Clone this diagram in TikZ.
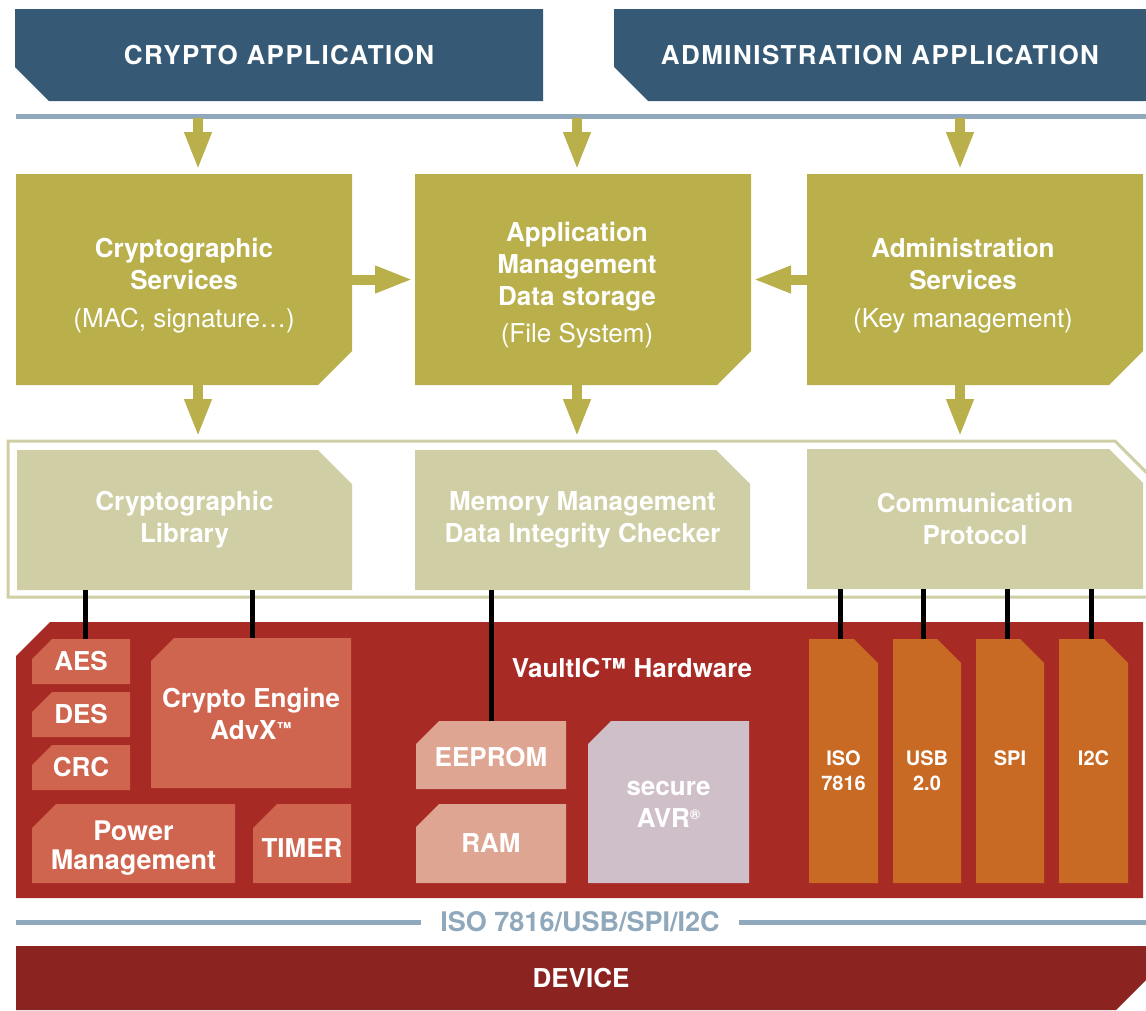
\documentclass[tikz,border=0pt]{standalone}
\usepackage{fontspec}
\setmainfont{TeX Gyre Heros}
\newfontfamily\bannerfont[LetterSpace=5.5]{TeX Gyre Heros}
\usetikzlibrary{arrows.meta}
\definecolor{bannerblue}{RGB}{54,90,117}
\definecolor{lineblue}{RGB}{143,168,187}
\definecolor{olivebox}{RGB}{185,176,76}
\definecolor{lightolive}{RGB}{207,206,164}
\definecolor{hwred}{RGB}{168,42,37}
\definecolor{salmonbox}{RGB}{208,101,79}
\definecolor{lightsalmon}{RGB}{222,165,146}
\definecolor{lilacbox}{RGB}{207,191,201}
\definecolor{ifaceorange}{RGB}{201,106,36}
\definecolor{devicered}{RGB}{139,35,32}
\newcommand\topgap[1]{\rule{0pt}{#1}}
\tikzset{
  cutNW/.style 2 args={path picture={\fill[#1]
    ([yshift=-#2]path picture bounding box.north west) -- ([xshift=#2]path picture bounding box.north west)
    -- (path picture bounding box.north east) -- (path picture bounding box.south east)
    -- (path picture bounding box.south west) -- cycle;}},
  cutNE/.style 2 args={path picture={\fill[#1]
    (path picture bounding box.north west) -- ([xshift=-#2]path picture bounding box.north east)
    -- ([yshift=-#2]path picture bounding box.north east) -- (path picture bounding box.south east)
    -- (path picture bounding box.south west) -- cycle;}},
  cutSE/.style 2 args={path picture={\fill[#1]
    (path picture bounding box.north west) -- (path picture bounding box.north east)
    -- ([yshift=#2]path picture bounding box.south east) -- ([xshift=-#2]path picture bounding box.south east)
    -- (path picture bounding box.south west) -- cycle;}},
  cutSW/.style 2 args={path picture={\fill[#1]
    (path picture bounding box.north west) -- (path picture bounding box.north east)
    -- (path picture bounding box.south east) -- ([xshift=#2]path picture bounding box.south west)
    -- ([yshift=#2]path picture bounding box.south west) -- cycle;}},
  sz/.style 2 args={minimum width=#1, minimum height=#2},
  blk/.style={inner sep=0pt, outer sep=0pt, text=white, align=center, font=\fontsize{26}{32}\selectfont\bfseries},
  bannertxt/.style={font=\fontsize{26}{32}\selectfont\bannerfont\bfseries},
  ifacetxt/.style={font=\fontsize{20}{25}\selectfont\bfseries},
  arr/.style={draw=olivebox, line width=10pt, -{Triangle[width=25pt,length=38pt]}},
  conn/.style={draw=black, line width=5pt},
  grayline/.style={draw=lineblue, line width=5pt},
  framebar/.style={draw=lightolive, line width=3pt},
}
\begin{document}
\begin{tikzpicture}[x=1pt,y=-1pt]
\useasboundingbox (0,0) rectangle (1146,1010);
% banners
\node[blk, bannertxt, sz={528pt}{92pt}, cutSW={bannerblue}{34pt}] (capp) at (279,55) {CRYPTO APPLICATION};
\node[blk, bannertxt, sz={532pt}{92pt}, cutSW={bannerblue}{34pt}] (aapp) at (880,55) {ADMINISTRATION APPLICATION};
\draw[grayline] (16,116) -- (1146,116);
\coordinate (t1) at (198,118);
\coordinate (t2) at (577,118);
\coordinate (t3) at (960,118);
% top service row
\node[blk, sz={336pt}{211pt}, cutSE={olivebox}{34pt}] (cs) at (184,279.5) {};
\node[blk, sz={336pt}{211pt}, cutSE={olivebox}{34pt}] (am) at (583,279.5) {};
\node[blk, sz={336pt}{211pt}, cutSE={olivebox}{34pt}] (as) at (975,279.5) {};
\node[blk] (cs-t) at (184,285.5) {Cryptographic\\Services\\[6pt]{\mdseries (MAC, signature…)}};
\node[blk] (am-t) at (577,285.5) {Application\\Management\\Data storage\\[5pt]{\mdseries (File System)}};
\node[blk] (as-t) at (963,285.5) {Administration\\Services\\[6pt]{\mdseries (Key management)}};
\draw[arr, shorten >=4pt] (t1) -- (t1 |- cs.north);
\draw[arr, shorten >=4pt] (t2) -- (t2 |- am.north);
\draw[arr, shorten >=4pt] (t3) -- (t3 |- as.north);
\draw[arr, shorten >=2pt] (cs.east) -- (am.west);
\draw[arr, shorten >=2pt] (as.west) -- (am.east);
% library frame
\coordinate (fr) at (8,441);
\draw[framebar] (1170,496) -- (1115,441) -- (fr) -- (8,597) -- (1170,597);
\node[blk, sz={335pt}{140pt}, cutNE={lightolive}{34pt}] (lib) at (184.5,520) {Cryptographic\\Library};
\node[blk, sz={335pt}{140pt}, cutNE={lightolive}{34pt}] (mem) at (582.5,520) {Memory Management\\Data Integrity Checker};
\node[blk, sz={336pt}{140pt}, cutNE={lightolive}{34pt}] (proto) at (975,519) {Communication\\Protocol};
\draw[arr, shorten >=4pt] (t1 |- cs.south) -- (t1 |- fr);
\draw[arr, shorten >=4pt] (t2 |- am.south) -- (t2 |- fr);
\draw[arr, shorten >=4pt] (t3 |- as.south) -- (t3 |- fr);
% hardware
\node[blk, sz={1127pt}{276pt}, cutNW={hwred}{34pt}] (hw) at (579.5,760) {};
\node[blk] (hwt) at (632,668) {VaultIC™ Hardware};
\node[blk, sz={98pt}{45pt}, cutNW={salmonbox}{20pt}] (aes) at (81,661.5) {AES};
\node[blk, sz={98pt}{45pt}, cutNW={salmonbox}{20pt}] (des) at (81,714.5) {DES};
\node[blk, sz={98pt}{45pt}, cutNW={salmonbox}{20pt}] (crc) at (81,767.5) {CRC};
\node[blk, sz={200pt}{150pt}, cutNW={salmonbox}{23pt}] (eng) at (251,713) {\topgap{21pt}Crypto Engine\\AdvX\raisebox{6pt}{\fontsize{15}{15}\selectfont ™}};
\node[blk, sz={203pt}{79pt}, cutNW={salmonbox}{24pt}, font=\fontsize{27}{29}\selectfont\bfseries] (pwr) at (133.5,843.5) {\topgap{28pt}Power\\Management};
\node[blk, sz={98pt}{79pt}, cutNW={salmonbox}{24pt}] (tim) at (302,843.5) {\topgap{27pt}TIMER};
\node[blk, sz={150pt}{68pt}, cutNW={lightsalmon}{23pt}] (eep) at (491,755) {\topgap{23pt}EEPROM};
\node[blk, sz={150pt}{79pt}, cutNW={lightsalmon}{23pt}] (ram) at (491,843.5) {RAM};
\node[blk, sz={161pt}{162pt}, cutNW={lilacbox}{23pt}] (avr) at (668.5,802) {\topgap{18pt}secure\\AVR\raisebox{8pt}{\fontsize{14}{14}\selectfont ®}};
\node[blk, ifacetxt, sz={69pt}{244pt}, cutNE={ifaceorange}{24pt}] (iso) at (843.5,761) {\topgap{35pt}ISO\\7816};
\node[blk, ifacetxt, sz={68pt}{244pt}, cutNE={ifaceorange}{24pt}] (usb) at (927,761) {\topgap{35pt}USB\\2.0};
\node[blk, ifacetxt, sz={68pt}{244pt}, cutNE={ifaceorange}{24pt}] (spi) at (1010,761) {\topgap{35pt}SPI\\\phantom{0}};
\node[blk, ifacetxt, sz={69pt}{244pt}, cutNE={ifaceorange}{24pt}] (i2c) at (1093.5,761) {\topgap{35pt}I2C\\\phantom{0}};
% connectors
\draw[conn] (aes.north) ++(4,0) coordinate (c-aes) -- (c-aes |- lib.south);
\draw[conn] (eng.north) ++(1,0) coordinate (c-eng) -- (c-eng |- lib.south);
\draw[conn] (eep.north) -- (eep.north |- mem.south);
\draw[conn] (iso.north) ++(-3,0) coordinate (c-iso) -- (c-iso |- proto.south);
\draw[conn] (usb.north) ++(-4,0) coordinate (c-usb) -- (c-usb |- proto.south);
\draw[conn] (spi.north) ++(-3,0) coordinate (c-spi) -- (c-spi |- proto.south);
\draw[conn] (i2c.north) ++(-2,0) coordinate (c-i2c) -- (c-i2c |- proto.south);
% bus
\node[inner xsep=19pt, inner ysep=0pt, text=lineblue, font=\fontsize{27}{32}\selectfont\bfseries] (bus) at (580,922) {ISO 7816/USB/SPI/I2C};
\draw[grayline] (16,922) -- (bus.west);
\draw[grayline] (bus.east) -- (1146,922);
% device
\node[blk, sz={1130pt}{64pt}, cutSE={devicered}{30pt}] (dev) at (581,978) {DEVICE};
\end{tikzpicture}
\end{document}
